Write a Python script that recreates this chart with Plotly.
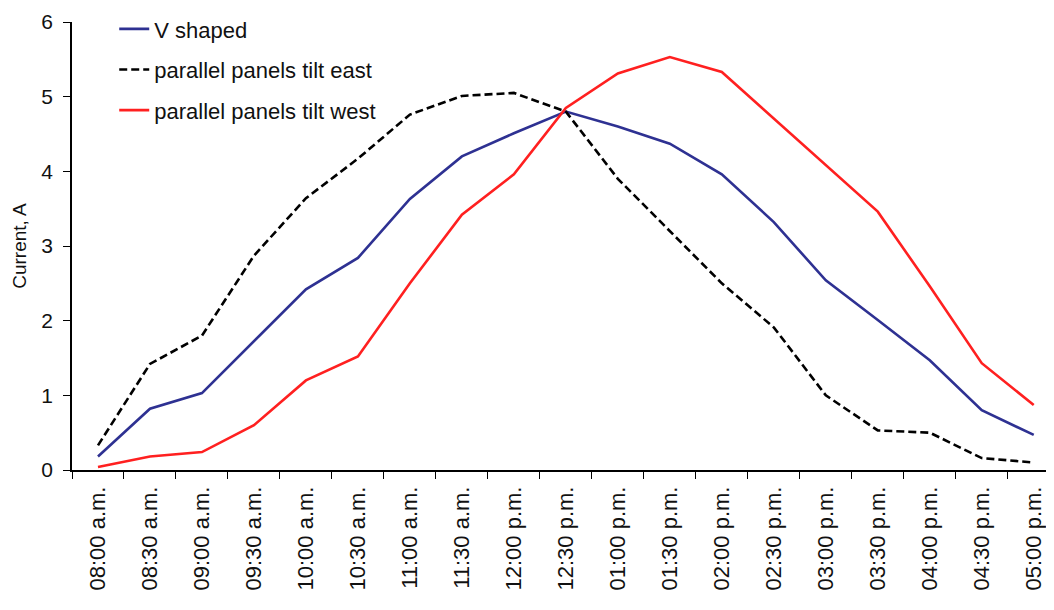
import plotly.graph_objects as go

times = ["08:00 a.m.", "08:30 a.m.", "09:00 a.m.", "09:30 a.m.", "10:00 a.m.", "10:30 a.m.",
         "11:00 a.m.", "11:30 a.m.", "12:00 p.m.", "12:30 p.m.", "01:00 p.m.", "01:30 p.m.",
         "02:00 p.m.", "02:30 p.m.", "03:00 p.m.", "03:30 p.m.", "04:00 p.m.", "04:30 p.m.",
         "05:00 p.m."]
v_shaped = [0.18, 0.82, 1.03, 1.73, 2.42, 2.84, 3.63, 4.20, 4.51, 4.80, 4.60, 4.37,
            3.96, 3.32, 2.54, 2.01, 1.47, 0.80, 0.47]
tilt_east = [0.33, 1.42, 1.80, 2.87, 3.64, 4.17, 4.76, 5.01, 5.05, 4.80, 3.90, 3.20,
             2.50, 1.91, 1.00, 0.53, 0.50, 0.16, 0.10]
tilt_west = [0.04, 0.18, 0.24, 0.60, 1.20, 1.52, 2.50, 3.42, 3.96, 4.85, 5.31, 5.53,
             5.33, 4.71, 4.09, 3.46, 2.46, 1.43, 0.87]

font = "Liberation Sans, Arial, sans-serif"

fig = go.Figure()
fig.add_trace(go.Scatter(x=times, y=v_shaped, mode="lines", name="V shaped",
                         line=dict(color="#2E3192", width=2.6), legendgroup="a"))
fig.add_trace(go.Scatter(x=times, y=tilt_east, mode="lines", name="parallel panels tilt east",
                         line=dict(color="#000000", width=2.6, dash="8px,4px"), legendgroup="b"))
fig.add_trace(go.Scatter(x=times, y=tilt_west, mode="lines", name="parallel panels tilt west",
                         line=dict(color="#FF2020", width=2.6), legendgroup="c"))

fig.update_layout(
    width=1046, height=602,
    margin=dict(l=64, r=0, t=12, b=140),
    paper_bgcolor="white", plot_bgcolor="white",
    font=dict(family=font, size=21, color="#111111"),
    showlegend=True,
    legend=dict(x=0.043, y=1.031, xanchor="left", yanchor="top",
                bgcolor="rgba(0,0,0,0)", tracegroupgap=9,
                font=dict(family=font, size=22, color="#111111")),
    xaxis=dict(type="category", range=[-0.5, 18.39], showline=True, linecolor="black",
               linewidth=1.5, ticks="outside", ticklen=7, tickcolor="black",
               tickson="boundaries", tickangle=-90, showgrid=False, zeroline=False,
               automargin=False, ticklabelstandoff=6,
               tickfont=dict(family=font, size=22, color="#111111")),
    yaxis=dict(range=[0, 6], dtick=1, showline=True, linecolor="black", linewidth=1.5,
               ticks="outside", ticklen=7, tickcolor="black", showgrid=False,
               zeroline=False, ticklabelstandoff=6, automargin=False,
               tickfont=dict(family=font, size=21, color="#111111"),
               title=dict(text="Current, A", standoff=10,
                          font=dict(family=font, size=19, color="#111111"))),
)

fig.write_html("out.html")
